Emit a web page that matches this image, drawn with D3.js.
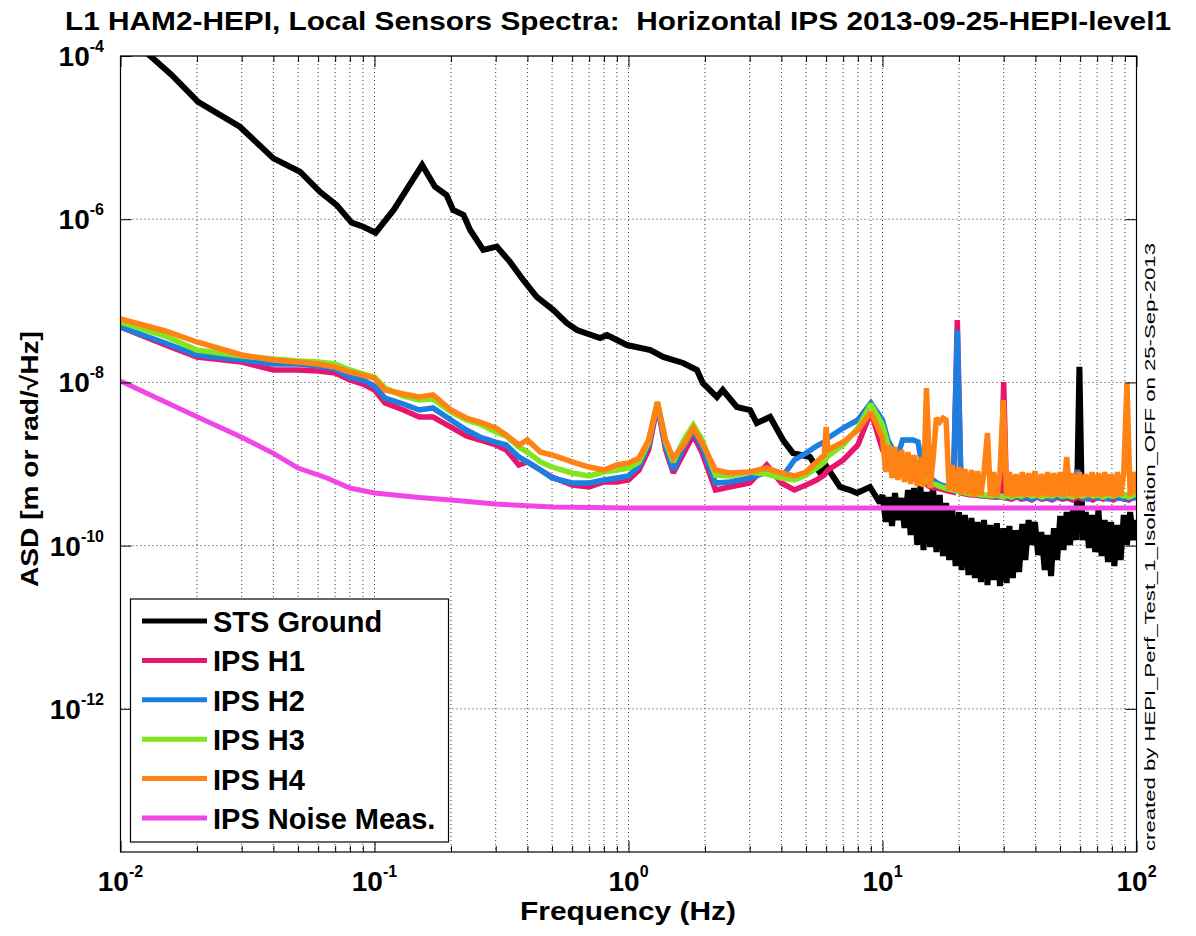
<!DOCTYPE html>
<html>
<head>
<meta charset="utf-8">
<title>L1 HAM2-HEPI Local Sensors Spectra</title>
<script src="https://cdn.jsdelivr.net/npm/d3@7"></script>
<style>
    body { margin: 0; background: #fff; }
    svg { display: block; font-family: "Liberation Sans", Arial, Helvetica, sans-serif; }
    .grid line { stroke: #3a3a3a; stroke-width: 1; stroke-dasharray: 1 3; }
    .trace { fill: none; stroke-linejoin: miter; stroke-miterlimit: 2; }
</style>
</head>
<body>
<script>
// ---- data ----
const xTickPowers = [-2, -1, 0, 1, 2];
const yTickPowers = [-4, -6, -8, -10, -12];
const legendLabels = ["STS Ground", "IPS H1", "IPS H2", "IPS H3", "IPS H4", "IPS Noise Meas."];

// STS ground seismometer (dense above 10 Hz where the trace is a noisy band)
const stsFreq = [0.01, 0.0131, 0.0159, 0.0202, 0.0295, 0.040, 0.0509, 0.061, 0.071, 0.0813,
    0.0903, 0.101, 0.119, 0.140, 0.154, 0.173, 0.192, 0.204, 0.224, 0.238,
    0.268, 0.303, 0.341, 0.385, 0.435, 0.506, 0.571, 0.627, 0.773, 0.823,
    0.986, 1.22, 1.37, 1.64, 1.86, 1.96, 2.23, 2.35, 2.67, 3.01,
    3.20, 3.61, 4.06, 4.44, 5.18, 5.68, 6.04, 6.80, 7.45, 7.93,
    8.93, 9.77,
    10, 10.3, 10.6, 10.9, 11.2, 11.5, 11.9, 12.2, 12.6, 12.9,
    13.3, 13.7, 14.1, 14.5, 14.9, 15.4, 15.8, 16.3, 16.8, 17.3,
    17.8, 18.3, 18.8, 19.4, 20.0, 20.5, 21.1, 21.8, 22.4, 23.1,
    23.7, 24.4, 25.1, 25.9, 26.6, 27.4, 28.2, 29.0, 29.9, 30.8,
    31.6, 32.6, 33.5, 34.5, 35.5, 36.5, 37.6, 38.7, 39.8, 41.0,
    42.2, 43.5, 44.7, 46.1, 47.3, 48.7, 50.1, 51.6, 53.1, 54.7,
    56.2, 57.9, 59.6, 61.3, 63.1, 65.0, 66.8, 68.8, 70.8, 72.9,
    75.0, 77.2, 79.4, 81.8, 84.1, 86.6, 89.1, 91.7, 94.4, 97.2,
    100];
const stsAsd = [2.08e-4, 1.0e-4, 5.85e-5, 2.75e-5, 1.36e-5, 5.57e-6, 3.82e-6, 2.17e-6, 1.49e-6, 9.06e-7,
    8.09e-7, 6.84e-7, 1.30e-6, 2.88e-6, 4.61e-6, 2.50e-6, 1.98e-6, 1.30e-6, 1.13e-6, 7.37e-7,
    4.20e-7, 4.61e-7, 3.02e-7, 1.80e-7, 1.12e-7, 7.71e-8, 5.35e-8, 4.39e-8, 3.50e-8, 3.81e-8,
    2.87e-8, 2.49e-8, 2.05e-8, 1.73e-8, 1.42e-8, 9.84e-9, 6.62e-9, 8.07e-9, 5.00e-9, 4.59e-9,
    3.18e-9, 3.77e-9, 1.97e-9, 1.36e-9, 1.22e-9, 7.76e-10, 9.18e-10, 5.23e-10, 4.80e-10, 4.42e-10,
    5.23e-10, 3.33e-10,
    4.17e-10, 1.95e-10, 3.94e-10, 1.74e-10, 4.41e-10, 2.06e-10, 3.83e-10, 1.64e-10, 4.80e-10, 1.35e-10,
    5.08e-10, 1.02e-10, 5.38e-10, 8.84e-11, 4.54e-10, 9.61e-11, 5.69e-10, 8.35e-11, 4.17e-10, 7.46e-11,
    3.33e-10, 6.66e-11, 2.89e-10, 5.62e-11, 2.58e-10, 5.02e-11, 2.37e-10, 4.36e-11, 2.18e-10, 4.01e-11,
    1.95e-10, 3.58e-11, 2.06e-10, 3.29e-11, 1.79e-10, 3.79e-11, 1.89e-10, 3.20e-11, 1.64e-10, 3.48e-11,
    1.74e-10, 4.01e-11, 1.55e-10, 4.75e-11, 1.84e-10, 6.66e-11, 2.06e-10, 1.02e-10, 1.95e-10, 7.67e-11,
    1.47e-10, 5.02e-11, 1.35e-10, 4.24e-11, 1.64e-10, 6.66e-11, 2.31e-10, 8.84e-11, 2.58e-10, 1.02e-10,
    2.73e-10, 1.17e-10, 1.55e-8, 1.17e-10, 2.58e-10, 9.35e-11, 2.37e-10, 8.35e-11, 2.73e-10, 7.46e-11,
    2.06e-10, 6.30e-11, 1.95e-10, 5.62e-11, 1.79e-10, 6.66e-11, 2.37e-10, 1.02e-10, 2.58e-10, 1.17e-10,
    2.06e-10];

// IPS H1..H3 share one frequency grid
const ipsFreq = [0.01, 0.015, 0.02, 0.03, 0.04, 0.05, 0.06, 0.07, 0.08, 0.09,
    0.1, 0.11, 0.13, 0.15, 0.17, 0.2, 0.23, 0.26, 0.3, 0.33,
    0.37, 0.4, 0.45, 0.5, 0.6, 0.7, 0.8, 0.9, 1.0, 1.1,
    1.2, 1.3, 1.4, 1.5, 1.65, 1.8, 1.95, 2.2, 2.5, 3,
    3.5, 4, 4.5, 5, 5.5, 5.9, 6.0, 6.1, 7, 8,
    9, 10, 10.5, 11, 11.5, 12, 12.6, 13.2, 13.8, 14.4,
    14.8, 15.2, 15.8, 16.4, 17, 17.6, 18.2, 19, 19.7, 20.4,
    21.3, 22.3, 23.3, 24.4, 25.6, 26.8, 28, 29.2, 30, 30.8,
    32.2, 33.7, 35.3, 37, 38.7, 40.5, 42.4, 44.4, 46.5, 48.7,
    51, 53.5, 56, 58.6, 61.4, 64.3, 67.3, 70.5, 73.8, 77.3,
    81, 84.8, 88.8, 91, 93.2, 97.5, 100];
const h1Asd = [4.77e-8, 2.87e-8, 2.05e-8, 1.78e-8, 1.42e-8, 1.42e-8, 1.38e-8, 1.30e-8, 1.07e-8, 9.56e-9,
    8.07e-9, 5.59e-9, 4.59e-9, 3.76e-9, 3.76e-9, 2.84e-9, 2.20e-9, 1.97e-9, 1.71e-9, 1.49e-9,
    9.72e-10, 1.06e-9, 8.44e-10, 6.93e-10, 5.53e-10, 5.23e-10, 6.02e-10, 6.02e-10, 6.37e-10, 8.44e-10,
    1.49e-9, 5.28e-9, 1.49e-9, 7.76e-10, 1.36e-9, 2.27e-9, 1.36e-9, 4.80e-10, 5.23e-10, 5.85e-10,
    9.72e-10, 5.85e-10, 4.80e-10, 5.53e-10, 6.37e-10, 7.33e-10, 7.98e-10, 8.44e-10, 1.12e-9, 1.71e-9,
    4.34e-9, 1.49e-9, 1.18e-9, 1.06e-9, 9.45e-10, 8.44e-10, 7.54e-10, 6.74e-10, 6.37e-10, 6.02e-10,
    5.69e-10, 5.38e-10, 5.08e-10, 5.08e-10, 4.94e-10, 4.80e-10, 4.67e-10, 4.54e-10, 5.82e-8, 4.41e-10,
    4.29e-10, 4.17e-10, 4.17e-10, 4.05e-10, 4.05e-10, 3.94e-10, 3.94e-10, 3.94e-10, 1.01e-8, 3.83e-10,
    3.72e-10, 3.94e-10, 3.72e-10, 3.83e-10, 3.62e-10, 3.94e-10, 3.72e-10, 3.83e-10, 3.62e-10, 3.94e-10,
    3.72e-10, 3.83e-10, 3.62e-10, 3.94e-10, 3.72e-10, 3.83e-10, 3.62e-10, 3.94e-10, 3.72e-10, 3.83e-10,
    3.62e-10, 3.94e-10, 3.72e-10, 3.83e-10, 3.62e-10, 3.94e-10, 3.83e-10];
const h2Asd = [4.77e-8, 3.04e-8, 2.17e-8, 1.88e-8, 1.68e-8, 1.68e-8, 1.59e-8, 1.46e-8, 1.16e-8, 1.07e-8,
    9.03e-9, 6.44e-9, 5.44e-9, 4.59e-9, 4.86e-9, 3.46e-9, 2.61e-9, 2.14e-9, 1.86e-9, 1.71e-9,
    1.22e-9, 1.06e-9, 8.44e-10, 6.74e-10, 5.85e-10, 5.85e-10, 6.37e-10, 6.74e-10, 7.13e-10, 9.45e-10,
    1.71e-9, 5.59e-9, 1.66e-9, 8.44e-10, 1.62e-9, 2.61e-9, 1.57e-9, 5.85e-10, 6.02e-10, 6.74e-10,
    7.98e-10, 6.74e-10, 1.12e-9, 1.36e-9, 1.66e-9, 1.86e-9, 1.97e-9, 2.08e-9, 2.76e-9, 3.46e-9,
    5.59e-9, 3.46e-9, 1.97e-9, 1.49e-9, 1.29e-9, 1.97e-9, 1.97e-9, 1.97e-9, 1.86e-9, 8.44e-10,
    7.33e-10, 6.74e-10, 6.37e-10, 5.85e-10, 5.53e-10, 5.38e-10, 5.08e-10, 4.80e-10, 4.39e-8, 4.80e-10,
    4.54e-10, 4.41e-10, 4.29e-10, 4.17e-10, 4.05e-10, 4.17e-10, 3.94e-10, 4.05e-10, 3.94e-10, 4.05e-10,
    3.83e-10, 4.05e-10, 3.83e-10, 3.94e-10, 3.72e-10, 4.05e-10, 3.83e-10, 3.94e-10, 3.72e-10, 4.05e-10,
    3.83e-10, 3.94e-10, 4.17e-10, 8.44e-10, 3.94e-10, 3.72e-10, 4.05e-10, 3.83e-10, 3.94e-10, 3.72e-10,
    4.05e-10, 3.83e-10, 3.94e-10, 3.72e-10, 4.05e-10, 3.83e-10, 3.94e-10];
const h3Asd = [5.50e-8, 3.70e-8, 2.49e-8, 2.11e-8, 1.94e-8, 1.83e-8, 1.78e-8, 1.68e-8, 1.42e-8, 1.27e-8,
    1.16e-8, 8.54e-9, 6.81e-9, 6.09e-9, 6.26e-9, 4.34e-9, 3.46e-9, 3.09e-9, 2.47e-9, 2.20e-9,
    1.62e-9, 1.40e-9, 1.06e-9, 9.19e-10, 7.76e-10, 7.13e-10, 7.98e-10, 8.44e-10, 8.93e-10, 1.06e-9,
    1.86e-9, 5.75e-9, 1.86e-9, 1.06e-9, 1.97e-9, 3.01e-9, 1.97e-9, 7.33e-10, 7.13e-10, 7.98e-10,
    7.54e-10, 6.74e-10, 6.37e-10, 7.33e-10, 8.93e-10, 1.06e-9, 1.18e-9, 1.25e-9, 1.71e-9, 2.76e-9,
    5.44e-9, 3.01e-9, 1.71e-9, 1.40e-9, 1.18e-9, 1.06e-9, 9.45e-10, 8.44e-10, 7.54e-10, 6.93e-10,
    6.37e-10, 6.02e-10, 5.69e-10, 5.53e-10, 5.23e-10, 5.08e-10, 4.94e-10, 4.80e-10, 4.67e-10, 4.54e-10,
    4.41e-10, 4.29e-10, 4.29e-10, 4.17e-10, 4.17e-10, 4.05e-10, 4.17e-10, 4.05e-10, 3.94e-10, 4.17e-10,
    3.94e-10, 4.17e-10, 4.05e-10, 4.29e-10, 4.05e-10, 4.17e-10, 3.94e-10, 4.17e-10, 4.05e-10, 4.29e-10,
    4.05e-10, 4.17e-10, 3.94e-10, 4.17e-10, 4.05e-10, 4.29e-10, 4.05e-10, 4.17e-10, 3.94e-10, 4.17e-10,
    4.05e-10, 4.29e-10, 4.05e-10, 4.17e-10, 3.94e-10, 4.17e-10, 4.41e-10];

// IPS H4 sits on top, so it gets a denser grid above 10 Hz
const h4Freq = [0.01, 0.015, 0.02, 0.03, 0.04, 0.05, 0.06, 0.07, 0.08, 0.09,
    0.1, 0.11, 0.13, 0.15, 0.17, 0.2, 0.23, 0.26, 0.3, 0.33,
    0.37, 0.4, 0.45, 0.5, 0.6, 0.7, 0.8, 0.9, 1.0, 1.1,
    1.2, 1.3, 1.4, 1.5, 1.65, 1.8, 1.95, 2.2, 2.5, 3,
    3.5, 4, 4.5, 5, 5.5, 5.9, 6.0, 6.1, 7, 8,
    9,
    10, 10.3, 10.6, 10.9, 11.2, 11.5, 11.9, 12.2, 12.6, 12.9,
    13.3, 13.7, 14.1, 14.5, 14.9, 15.4, 15.8, 16.3, 16.8, 17.3,
    17.8, 18.3, 18.8, 19.4, 20.0, 20.5, 21.1, 21.8, 22.4, 23.1,
    23.7, 24.4, 25.1, 25.9, 26.6, 27.4, 28.2, 29.0, 29.9, 30.8,
    31.6, 32.6, 33.5, 34.5, 35.5, 36.5, 37.6, 38.7, 39.8, 41.0,
    42.2, 43.5, 44.7, 46.1, 47.3, 48.7, 50.1, 51.6, 53.1, 54.7,
    56.2, 57.9, 59.6, 61.3, 63.1, 65.0, 66.8, 68.8, 70.8, 72.9,
    75.0, 77.2, 79.4, 81.8, 84.1, 86.6, 89.1, 91.7, 94.4, 97.2,
    100];
const h4Asd = [5.99e-8, 4.27e-8, 3.13e-8, 2.17e-8, 1.88e-8, 1.78e-8, 1.68e-8, 1.54e-8, 1.34e-8, 1.23e-8,
    1.13e-8, 8.07e-9, 7.21e-9, 6.62e-9, 7.01e-9, 4.59e-9, 3.66e-9, 3.27e-9, 2.76e-9, 2.27e-9,
    1.71e-9, 1.97e-9, 1.40e-9, 1.29e-9, 1.06e-9, 9.19e-10, 8.44e-10, 9.72e-10, 1.03e-9, 1.18e-9,
    1.97e-9, 5.75e-9, 1.97e-9, 1.18e-9, 1.71e-9, 2.76e-9, 1.81e-9, 8.44e-10, 7.76e-10, 7.98e-10,
    8.93e-10, 7.76e-10, 7.13e-10, 7.98e-10, 1.06e-9, 1.29e-9, 2.84e-9, 1.49e-9, 1.86e-9, 2.61e-9,
    4.34e-9,
    2.08e-9, 7.98e-10, 1.71e-9, 6.74e-10, 1.62e-9, 6.37e-10, 1.49e-9, 6.02e-10, 1.40e-9, 5.69e-10,
    1.29e-9, 5.38e-10, 1.22e-9, 5.23e-10, 8.54e-9, 5.08e-10, 1.12e-9, 3.66e-9, 3.27e-9, 3.66e-9,
    3.46e-9, 4.80e-10, 9.72e-10, 4.54e-10, 9.19e-10, 4.29e-10, 8.68e-10, 4.17e-10, 8.44e-10, 4.05e-10,
    8.21e-10, 4.17e-10, 7.98e-10, 2.40e-9, 4.05e-10, 7.98e-10, 3.94e-10, 7.76e-10, 6.09e-9, 4.05e-10,
    7.98e-10, 3.94e-10, 7.54e-10, 4.05e-10, 7.98e-10, 3.94e-10, 7.76e-10, 4.05e-10, 8.21e-10, 3.94e-10,
    7.54e-10, 4.05e-10, 7.98e-10, 3.94e-10, 7.76e-10, 4.05e-10, 7.98e-10, 3.94e-10, 1.22e-9, 4.05e-10,
    7.76e-10, 3.94e-10, 7.98e-10, 4.05e-10, 7.54e-10, 3.94e-10, 7.98e-10, 4.05e-10, 7.76e-10, 3.94e-10,
    7.98e-10, 4.05e-10, 7.54e-10, 3.94e-10, 7.98e-10, 4.05e-10, 7.76e-10, 9.83e-9, 4.05e-10, 7.98e-10,
    4.29e-10];

// IPS noise measurement
const noiseFreq = [0.01, 0.02, 0.03, 0.04, 0.05, 0.065, 0.08, 0.1, 0.15, 0.2, 0.3, 0.5, 1, 100];
const noiseAsd = [1.04e-8, 3.80e-9, 2.13e-9, 1.35e-9, 8.93e-10, 6.74e-10, 5.08e-10, 4.41e-10, 3.89e-10, 3.62e-10, 3.23e-10, 2.97e-10, 2.89e-10, 2.89e-10];

// ---- layout ----
const width = 1196, height = 936;
const plot = { left: 120.5, right: 1136.5, top: 56, bottom: 852 };

const series = [
    { name: legendLabels[0], freq: stsFreq, asd: stsAsd, color: "#000000", w: 6 },
    { name: legendLabels[1], freq: ipsFreq, asd: h1Asd, color: "#e8146e", w: 5.5 },
    { name: legendLabels[2], freq: ipsFreq, asd: h2Asd, color: "#1c7fe0", w: 5.5 },
    { name: legendLabels[3], freq: ipsFreq, asd: h3Asd, color: "#82e61e", w: 5.5 },
    { name: legendLabels[4], freq: h4Freq, asd: h4Asd, color: "#ff8214", w: 5.5 },
    { name: legendLabels[5], freq: noiseFreq, asd: noiseAsd, color: "#f046e6", w: 5 }
];

let xScale = d3.scaleLog()
    .domain([0.01, 100])
    .range([plot.left, plot.right]);

let yScale = d3.scaleLog()
    .domain([1.76e-14, 1e-4]) // bottom of the box sits a bit above 1e-14
    .range([plot.bottom, plot.top]);

let svg = d3.select("body").append("svg")
    .attr("width", width)
    .attr("height", height);

svg.append("rect").attr("width", width).attr("height", height).attr("fill", "#fff");

svg.append("defs").append("clipPath").attr("id", "plotclip")
    .append("rect")
    .attr("x", plot.left).attr("y", plot.top)
    .attr("width", plot.right - plot.left).attr("height", plot.bottom - plot.top);

// dotted grid: every decade subdivision on x, labelled decades on y
const xAllTicks = xScale.ticks();
const xMajor = xTickPowers.map(p => Math.pow(10, p));
const xMinor = xAllTicks.filter(d => !xTickPowers.some(p => Math.abs(Math.log10(d) - p) < 1e-6));
const yMajor = yTickPowers.map(p => Math.pow(10, p));

svg.append("g").attr("class", "grid")
    .selectAll("line").data(xAllTicks).join("line")
    .attr("x1", d => xScale(d)).attr("x2", d => xScale(d))
    .attr("y1", plot.top).attr("y2", plot.bottom);

svg.append("g").attr("class", "grid")
    .selectAll("line").data(yMajor).join("line")
    .attr("x1", plot.left).attr("x2", plot.right)
    .attr("y1", d => yScale(d)).attr("y2", d => yScale(d));

// traces
let line = d3.line()
    .x(d => xScale(d[0]))
    .y(d => yScale(d[1]));

let traces = svg.append("g").attr("clip-path", "url(#plotclip)");
series.forEach(s => {
    traces.append("path")
        .datum(d3.zip(s.freq, s.asd))
        .attr("class", "trace")
        .attr("stroke", s.color)
        .attr("stroke-width", s.w)
        .attr("d", line);
});

// ticks pointing inward on all four sides, labels drawn separately
function tickAxis(axis, transform) {
    svg.append("g")
        .attr("transform", transform)
        .call(axis.tickSizeOuter(0))
        .call(g => g.select(".domain").remove())
        .call(g => g.selectAll("text").remove());
}
tickAxis(d3.axisBottom(xScale).tickValues(xMajor).tickSize(-11), "translate(0," + plot.bottom + ")");
tickAxis(d3.axisBottom(xScale).tickValues(xMinor).tickSize(-6), "translate(0," + plot.bottom + ")");
tickAxis(d3.axisTop(xScale).tickValues(xMajor).tickSize(-11), "translate(0," + plot.top + ")");
tickAxis(d3.axisTop(xScale).tickValues(xMinor).tickSize(-6), "translate(0," + plot.top + ")");
tickAxis(d3.axisLeft(yScale).tickValues(yMajor).tickSize(-11), "translate(" + plot.left + ",0)");
tickAxis(d3.axisRight(yScale).tickValues(yMajor).tickSize(-11), "translate(" + plot.right + ",0)");

svg.append("rect")
    .attr("x", plot.left).attr("y", plot.top)
    .attr("width", plot.right - plot.left).attr("height", plot.bottom - plot.top)
    .attr("fill", "none").attr("stroke", "#000").attr("stroke-width", 1.2);

// 10^n labels
function powerLabel(sel) {
    sel.attr("font-size", 28).attr("font-weight", "bold").attr("fill", "#000")
        .each(function (p) {
            let t = d3.select(this);
            t.append("tspan").text("10");
            t.append("tspan").attr("dy", -14).attr("font-size", 16).text(p);
        });
}
svg.append("g").selectAll("text").data(xTickPowers).join("text")
    .attr("x", p => xScale(Math.pow(10, p)))
    .attr("y", 891)
    .attr("text-anchor", "middle")
    .call(powerLabel);

svg.append("g").selectAll("text").data(yTickPowers).join("text")
    .attr("x", 104)
    .attr("y", p => yScale(Math.pow(10, p)) + 10)
    .attr("text-anchor", "end")
    .call(powerLabel);

// legend
const legend = { x: 130.5, y: 599, w: 318, h: 243, row0: 621, rowGap: 39.4 };
let lg = svg.append("g");
lg.append("rect")
    .attr("x", legend.x).attr("y", legend.y)
    .attr("width", legend.w).attr("height", legend.h)
    .attr("fill", "#fff").attr("stroke", "#000").attr("stroke-width", 1.2);
series.forEach((s, i) => {
    let yy = legend.row0 + i * legend.rowGap;
    lg.append("line")
        .attr("x1", 142).attr("x2", 207).attr("y1", yy).attr("y2", yy)
        .attr("stroke", s.color).attr("stroke-width", 5);
    lg.append("text")
        .attr("x", 213).attr("y", yy + 11)
        .attr("font-size", 29).attr("font-weight", "bold")
        .text(s.name);
});

// titles and labels
svg.append("text")
    .attr("x", 618).attr("y", 30)
    .attr("text-anchor", "middle")
    .attr("font-size", 25).attr("font-weight", "bold")
    .attr("textLength", 1106).attr("lengthAdjust", "spacingAndGlyphs")
    .style("white-space", "pre")
    .text("L1 HAM2-HEPI, Local Sensors Spectra:  Horizontal IPS 2013-09-25-HEPI-level1");

svg.append("text")
    .attr("x", 628).attr("y", 920)
    .attr("text-anchor", "middle")
    .attr("font-size", 25).attr("font-weight", "bold")
    .attr("textLength", 216).attr("lengthAdjust", "spacingAndGlyphs")
    .text("Frequency (Hz)");

svg.append("text")
    .attr("transform", "translate(38,459) rotate(-90)")
    .attr("text-anchor", "middle")
    .attr("font-size", 24).attr("font-weight", "bold")
    .attr("textLength", 256).attr("lengthAdjust", "spacingAndGlyphs")
    .text("ASD [m or rad/\u221AHz]");

svg.append("text")
    .attr("transform", "translate(1155,851) rotate(-90)")
    .attr("text-anchor", "start")
    .attr("font-size", 15)
    .attr("textLength", 608).attr("lengthAdjust", "spacingAndGlyphs")
    .text("created by HEPI_Perf_Test_1_Isolation_OFF on 25-Sep-2013");
</script>
</body>
</html>
